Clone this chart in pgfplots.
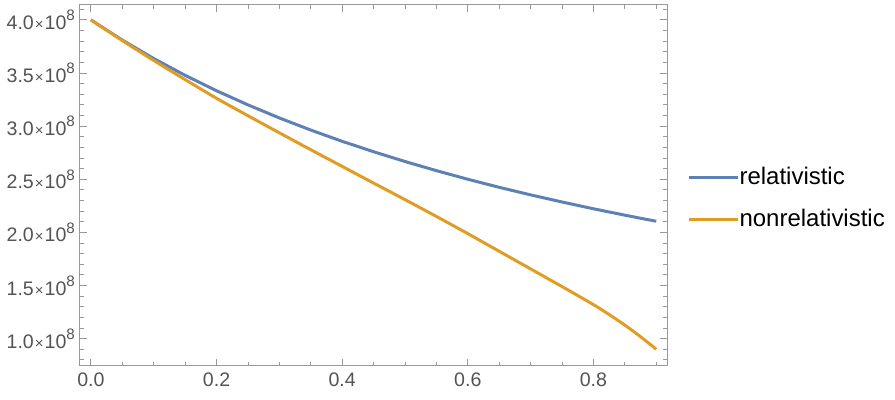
\documentclass[border=0pt]{standalone}
\usepackage{fontspec}
\setmainfont{Liberation Sans}
\usepackage{pgfplots}
\pgfplotsset{compat=1.18}
\definecolor{mblue}{rgb}{0.368,0.507,0.71}
\definecolor{morange}{rgb}{0.881,0.611,0.142}
\definecolor{framegray}{gray}{0.6}
\definecolor{labgray}{gray}{0.33}
\newcommand{\sci}[1]{#1\hspace{0.5pt}{\fontsize{7.5}{8}\selectfont×}\hspace{0.5pt}10\raisebox{0.85ex}{\fontsize{7.6}{8}\selectfont 8}}

% y in units of 1e8
\pgfplotstableread{
x     rel    nonrel
0.00  4.000  4.000
0.05  3.810  3.805
0.10  3.636  3.618
0.15  3.478  3.438
0.20  3.333  3.262
0.25  3.200  3.098
0.30  3.077  2.937
0.35  2.963  2.778
0.40  2.857  2.621
0.45  2.759  2.464
0.50  2.667  2.308
0.55  2.581  2.150
0.60  2.500  1.988
0.65  2.424  1.822
0.70  2.353  1.656
0.75  2.286  1.490
0.80  2.222  1.320
0.825 2.192  1.227
0.85  2.162  1.127
0.875 2.133  1.018
0.90  2.105  0.900
}\data

\begin{document}
\begin{tikzpicture}
\begin{axis}[
  name=ax,
  scale only axis, width=294pt, height=180.5pt,
  xmin=-0.0175, xmax=0.9175, ymin=0.746, ymax=4.14,
  axis line style={framegray, line width=0.5pt},
  xtick={0,0.2,0.4,0.6,0.8}, xticklabels={0.0,0.2,0.4,0.6,0.8},
  minor xtick={0.05,0.1,0.15,0.25,0.3,0.35,0.45,0.5,0.55,0.65,0.7,0.75,0.85,0.9},
  ytick={1,1.5,2,2.5,3,3.5,4},
  yticklabels={\sci{1.0},\sci{1.5},\sci{2.0},\sci{2.5},\sci{3.0},\sci{3.5},\sci{4.0}},
  minor ytick={0.8,0.9,1.1,1.2,1.3,1.4,1.6,1.7,1.8,1.9,2.1,2.2,2.3,2.4,2.6,2.7,2.8,2.9,3.1,3.2,3.3,3.4,3.6,3.7,3.8,3.9,4.1},
  tick style={framegray, line width=0.4pt},
  major tick length=3.5pt, minor tick length=2pt,
  tick label style={font=\fontsize{9.8}{11}\selectfont, text=labgray},
  yticklabel style={xshift=1pt},
  legend style={draw=none, fill=none, inner sep=0pt, at={(1.034,0.464)}, anchor=west,
    font=\fontsize{12}{14}\selectfont, row sep=7pt,
    nodes={inner xsep=0pt, inner ysep=2pt}},
  legend cell align=left,
  legend image code/.code={\draw[#1, line width=1.5pt] (0pt,0pt) -- (16.5pt,0pt);
    \path (0pt,0pt) -- (24.5pt,0pt);},
]
\addplot[mblue, line width=1.5pt] table[x=x, y=rel] {\data};
\addlegendentry{relativistic}
\addplot[morange, line width=1.5pt, smooth, tension=0.4] table[x=x, y=nonrel] {\data};
\addlegendentry{nonrelativistic}
\end{axis}
\path ([xshift=-39.5pt, yshift=2.5pt]ax.north west) rectangle ([xshift=114pt, yshift=-17pt]ax.south east);
\end{tikzpicture}
\end{document}
